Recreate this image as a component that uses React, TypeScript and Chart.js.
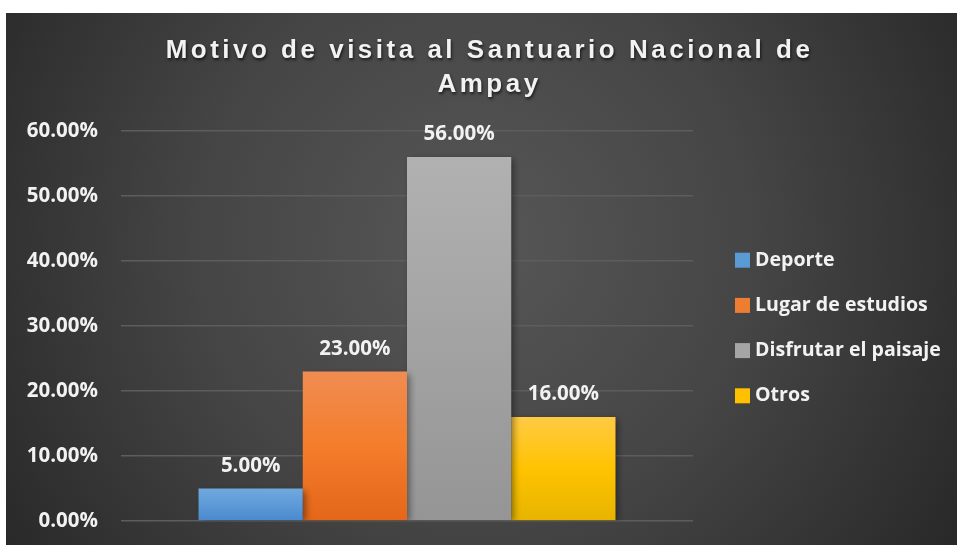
import React, { useEffect, useRef } from "react";
import { Chart, registerables } from "chart.js";

Chart.register(...registerables);

const TITLE_LINES = ["Motivo de visita al Santuario Nacional de", "Ampay"];
const categories = ["Deporte", "Lugar de estudios", "Disfrutar el paisaje", "Otros"];
const values = [0.05, 0.23, 0.56, 0.16];
const yMin = 0;
const yMax = 0.6;
const yStep = 0.1;
const gradTop = ["#70a9de", "#f08c52", "#b1b1b1", "#ffca44"];
const gradMid = ["#5d9ad8", "#f47d2b", "#a3a3a3", "#ffc300"];
const gradBottom = ["#4989cd", "#e4661a", "#959595", "#e6b400"];
const legendColors = ["#5b9bd5", "#ed7d31", "#a5a5a5", "#ffc000"];

const FONT = "'Open Sans', sans-serif";
const fmt = (v: number) => (v * 100).toFixed(2) + "%";

const bgPlugin = {
  id: "bg",
  beforeDraw(chart: any) {
    const { ctx, width, height } = chart;
    ctx.save();
    const g = ctx.createRadialGradient(470, 230, 0, 470, 230, 620);
    g.addColorStop(0, "#575757");
    g.addColorStop(0.45, "#454545");
    g.addColorStop(1, "#232323");
    ctx.fillStyle = g;
    ctx.fillRect(0, 0, width, height);
    ctx.restore();
  },
};

const titlePlugin = {
  id: "customTitle",
  afterDraw(chart: any) {
    const { ctx, width } = chart;
    ctx.save();
    ctx.font = "bold 26px 'Liberation Sans', Arial, sans-serif";
    (ctx as any).letterSpacing = "3.5px";
    ctx.fillStyle = "#f2f2f2";
    ctx.textAlign = "center";
    ctx.textBaseline = "alphabetic";
    ctx.shadowColor = "rgba(0,0,0,0.65)";
    ctx.shadowOffsetX = 1;
    ctx.shadowOffsetY = 2;
    ctx.shadowBlur = 3;
    const cx = width / 2 + 8;
    ctx.fillText(TITLE_LINES[0], cx, 45);
    ctx.fillText(TITLE_LINES[1], cx, 79);
    ctx.restore();
  },
};

const shadowPlugin = {
  id: "barShadow",
  beforeDatasetDraw(chart: any) {
    const ctx = chart.ctx;
    ctx.save();
    ctx.shadowColor = "rgba(0,0,0,0.45)";
    ctx.shadowOffsetX = 3;
    ctx.shadowOffsetY = 2;
    ctx.shadowBlur = 7;
  },
  afterDatasetDraw(chart: any) {
    chart.ctx.restore();
  },
};

const labelPlugin = {
  id: "dataLabels",
  afterDatasetsDraw(chart: any) {
    const { ctx } = chart;
    ctx.save();
    ctx.font = `bold 20.5px ${FONT}`;
    ctx.fillStyle = "#f2f2f2";
    ctx.textAlign = "center";
    ctx.textBaseline = "alphabetic";
    chart.data.datasets.forEach((ds: any, i: number) => {
      const meta = chart.getDatasetMeta(i);
      const el = meta.data[0];
      if (!el) return;
      ctx.fillText(fmt(ds.data[0]), el.x, el.y - 17);
    });
    ctx.restore();
  },
};

const legendPlugin = {
  id: "customLegend",
  afterDraw(chart: any) {
    const { ctx, chartArea } = chart;
    const x = chartArea.right + 42;
    const spacing = 45.2;
    const midY = (chartArea.top + chartArea.bottom) / 2;
    const startY = midY - ((categories.length - 1) / 2) * spacing + 2;
    ctx.save();
    ctx.font = `bold 19.6px ${FONT}`;
    ctx.textAlign = "left";
    ctx.textBaseline = "middle";
    categories.forEach((c, i) => {
      const cy = startY + i * spacing;
      ctx.fillStyle = legendColors[i];
      ctx.fillRect(x, cy - 7.5, 15, 15);
      ctx.fillStyle = "#f2f2f2";
      ctx.fillText(c, x + 20, cy);
    });
    ctx.restore();
  },
};

export default function App() {
  const ref = useRef<HTMLCanvasElement | null>(null);
  useEffect(() => {
    if (!ref.current) return;
    const makeGrad = (i: number) => (c: any) => {
      const chart = c.chart;
      const y = chart.scales?.y;
      if (!chart.chartArea || !y) return legendColors[i];
      const top = y.getPixelForValue(values[i]);
      const bottom = y.getPixelForValue(0);
      const g = chart.ctx.createLinearGradient(0, top, 0, bottom);
      g.addColorStop(0, gradTop[i]);
      g.addColorStop(0.5, gradMid[i]);
      g.addColorStop(1, gradBottom[i]);
      return g;
    };
    const chart = new Chart(ref.current, {
      type: "bar",
      data: {
        labels: [""],
        datasets: categories.map((c, i) => ({
          label: c,
          data: [values[i]],
          backgroundColor: makeGrad(i),
          borderWidth: 0,
          categoryPercentage: 0.729,
          barPercentage: 1,
        })),
      },
      options: {
        animation: false,
        responsive: false,
        maintainAspectRatio: false,
        layout: { padding: { top: 118, bottom: 24, left: 0, right: 264 } },
        plugins: {
          legend: { display: false },
          title: { display: false },
          tooltip: { enabled: false },
        },
        scales: {
          x: { display: false },
          y: {
            min: yMin,
            max: yMax,
            ticks: {
              stepSize: yStep,
              padding: 23,
              color: "#f2f2f2",
              font: { family: FONT, weight: "bold", size: 20.5 },
              callback: (v: any) => fmt(Number(v)),
            },
            grid: { color: "#5d5d5d", lineWidth: 1.5, drawTicks: false },
            border: { display: false },
            afterFit: (scale: any) => {
              scale.width = 115;
              scale.paddingTop = 0;
              scale.paddingBottom = 0;
            },
          },
        },
      },
      plugins: [bgPlugin, shadowPlugin, labelPlugin, legendPlugin, titlePlugin],
    } as any);
    return () => chart.destroy();
  }, []);
  return (
    <div style={{ position: "fixed", left: 6, top: 13, width: 951, height: 532 }}>
      <canvas ref={ref} width={951} height={532} style={{ display: "block" }} />
    </div>
  );
}
